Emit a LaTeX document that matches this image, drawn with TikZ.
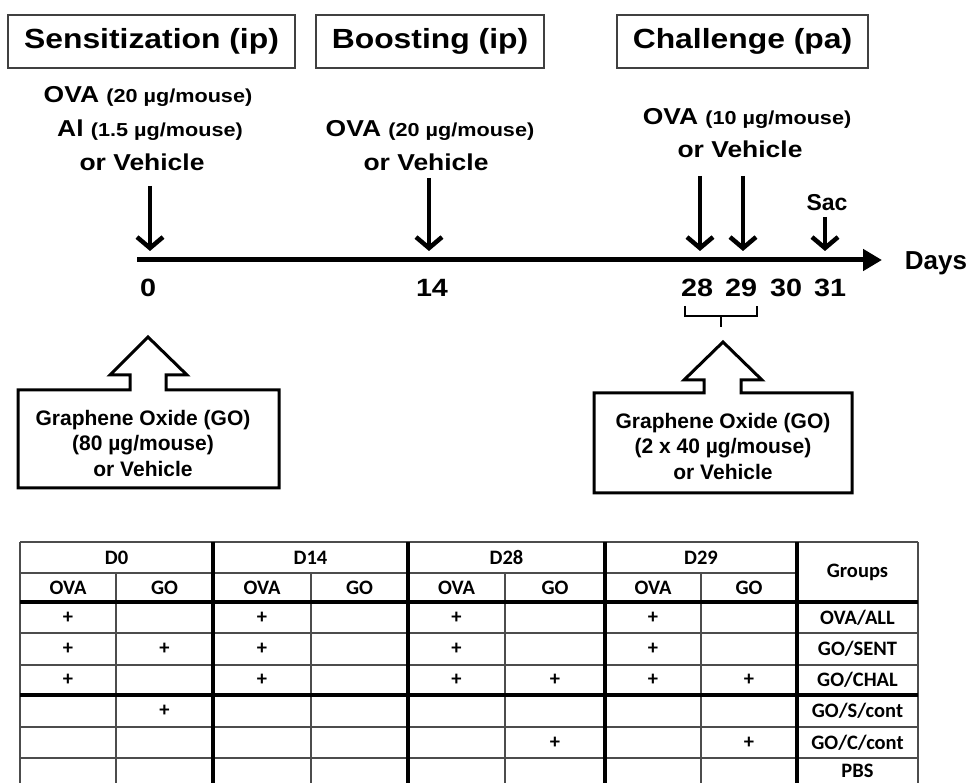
\documentclass[tikz,border=0pt]{standalone}
\usepackage{fontspec}
\setmainfont{Liberation Sans}
\newfontfamily\widesf[FakeStretch=1.15]{Liberation Sans}
\newfontfamily\tabsf{Carlito}
\usetikzlibrary{arrows.meta}
\newcommand{\amt}[1]{{\fontsize{18.8}{21}\selectfont #1}}

\begin{document}
\begin{tikzpicture}[x=1pt,y=-1pt,
  phase/.style={draw=black!75,line width=1.5pt,minimum width=#1,minimum height=53pt,inner sep=0pt,
    font=\widesf\bfseries\fontsize{27.7}{31}\selectfont},
  dose/.style={anchor=base,inner sep=0pt,font=\widesf\bfseries\fontsize{23}{27}\selectfont},
  daynum/.style={anchor=base,inner sep=0pt,font=\widesf\bfseries\fontsize{25}{28}\selectfont},
  drop/.style={line width=4.5pt,-{Straight Barb[length=11pt,width=26pt]}},
  axis/.style={line width=5pt,-{Triangle[length=19pt,width=21pt]}},
  blk/.style={line width=3pt,line join=miter},
  gotext/.style={align=center,inner sep=0pt,font=\bfseries\fontsize{21}{25.5}\selectfont},
  thinrule/.style={line width=1.3pt,black!70},
  thickrule/.style={line width=4pt},
  cell/.style={inner sep=0pt,font=\tabsf\bfseries\fontsize{20.5}{22}\selectfont}]
\useasboundingbox (0,0) rectangle (970,783);

% Phases
\node[phase=287pt] (sens) at (151.5,41.5) {Sensitization (ip)};
\node[phase=228pt] (boost) at (430,41.5) {Boosting (ip)};
\node[phase=251pt] (chal) at (742.5,41.5) {Challenge (pa)};

% Doses
\node[dose] (sova) at (148,103) {OVA\ \amt{(20 µg/mouse)}};
\node[dose] (sal) at (150,137) {Al \amt{(1.5 µg/mouse)}};
\node[dose] (sveh) at (142,171) {or Vehicle};
\node[dose] (bova) at (430,137) {OVA\ \amt{(20 µg/mouse)}};
\node[dose] (bveh) at (426,171) {or Vehicle};
\node[dose] (cova) at (747,125) {OVA\ \amt{(10 µg/mouse)}};
\node[dose] (cveh) at (740,158) {or Vehicle};
\node[anchor=base,inner sep=0pt,font=\bfseries\fontsize{23}{26}\selectfont] (sac) at (827,211) {Sac};

% Timeline
\coordinate (t0) at (137,260);
\coordinate (tend) at (882,260);
\draw[axis] (t0) -- (tend);
\node[anchor=base,inner sep=0pt,font=\bfseries\fontsize{26}{30}\selectfont] (days) at (936,270) {Days};
\foreach \d/\x in {0/148,14/432,28/697,29/741,30/786,31/830}
  \node[daynum] (n\d) at (\x,297) {\d};

% Injections
\foreach \n/\x/\y in {0/150/186,14/429/178,28/700/176,29/743/176,31/825/217}{
  \coordinate (s\n) at (\x,\y);
  \coordinate (e\n) at (\x,251);
  \draw[drop] (s\n) -- (e\n);
}

% Bracket 28-29
\coordinate (bl) at (685,306);
\coordinate (br) at (757,306);
\coordinate (bm) at (721,316);
\draw[line width=2pt] (bl) -- ++(0,10) -| (br);
\draw[line width=2pt] (bm) -- ++(0,11);

% GO block arrows
\draw[blk] (148,337) -- (187,375) -- (166,375) -- (166,390) -- (279,390) -- (279,488)
  -- (18,488) -- (18,390) -- (130,390) -- (130,375) -- (110,375) -- cycle;
\node[gotext] (gos) at (143,443) {Graphene Oxide (GO)\\(80 µg/mouse)\\or Vehicle};
\draw[blk] (723,342) -- (762,380) -- (741,380) -- (741,393) -- (852,393) -- (852,493)
  -- (594,493) -- (594,393) -- (704,393) -- (704,380) -- (684,380) -- cycle;
\node[gotext] (goc) at (723,446) {Graphene Oxide (GO)\\(2 x 40 µg/mouse)\\or Vehicle};

% Table grid
\draw[thinrule] (20,542) -- (918,542);
\draw[thinrule] (20,573) -- (797,573);
\foreach \y in {633,665,727,758}
  \draw[thinrule] (20,\y) -- (918,\y);
\foreach \x in {20,918}
  \draw[thinrule] (\x,542) -- (\x,783);
\foreach \x in {116,311,505,701}
  \draw[thinrule] (\x,573) -- (\x,783);
\foreach \x in {213,408,605,797}
  \draw[thickrule] (\x,542) -- (\x,783);
\foreach \y in {602,695}
  \draw[thickrule] (20,\y) -- (918,\y);

% Table text
\foreach \t/\x in {D0/116.5,D14/310.5,D28/506.5,D29/701}
  \node[cell] (h\t) at (\x,557.5) {\t};
\foreach \x [count=\i] in {68,164.5,262,359.5,456.5,555,653,749}{
  \pgfmathsetmacro{\lbl}{isodd(\i) ? "OVA" : "GO"}
  \node[cell] (c\i) at (\x,587.5) {\lbl};
}
\node[cell] (grp) at (857.5,572) {Groups};
\foreach \g/\y [count=\r] in {{OVA/ALL}/617.5,{GO/SENT}/649,{GO/CHAL}/680,{GO/S/cont}/711,{GO/C/cont}/742.5,{PBS}/771}
  \node[cell] (g\r) at (857.5,\y) {\g};
\foreach \x/\y [count=\k] in {68/617.5,262/617.5,456.5/617.5,653/617.5,
    68/649,164.5/649,262/649,456.5/649,653/649,
    68/680,262/680,456.5/680,555/680,653/680,749/680,
    164.5/711,555/742.5,749/742.5}
  \node[cell] (p\k) at (\x,\y) {+};
\end{tikzpicture}
\end{document}
